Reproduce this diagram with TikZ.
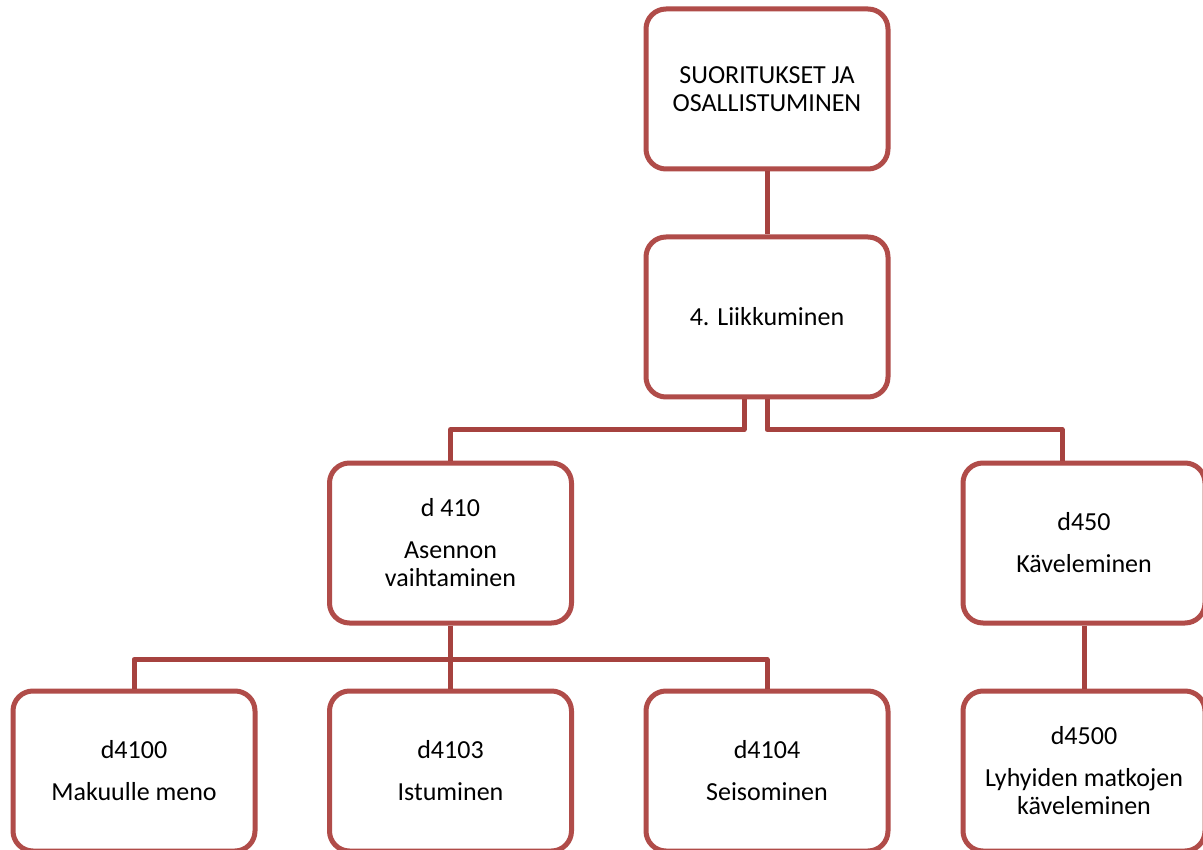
\documentclass[tikz,border=0pt]{standalone}
\usepackage{fontspec}
\setmainfont{Carlito}
\definecolor{boxred}{RGB}{176,76,73}
\definecolor{linkred}{RGB}{166,66,63}
\tikzset{
  unit/.style={draw=boxred, line width=5pt, rounded corners=20pt, fill=white,
    minimum width=242pt, minimum height=160pt, align=center, inner sep=0pt,
    font=\fontsize{26}{28}\selectfont},
  link/.style={draw=linkred, line width=5pt, line join=round}
}
\begin{document}
\begin{tikzpicture}[x=1pt, y=-1pt]
\useasboundingbox (0,0) rectangle (1203,850);
\fill[white] (0,0) rectangle (1203,850);

% boxes of the hierarchy
\node[unit] (top) at (767,89) {SUORITUKSET JA\\OSALLISTUMINEN};
\node[unit] (liik) at (767,317) {4. Liikkuminen};
\node[unit] (d410) at (450.5,543) {d 410\\[14pt]Asennon\\vaihtaminen};
\node[unit] (d450) at (1084,543) {d450\\[14pt]Käveleminen};
\node[unit] (d4100) at (134,771) {d4100\\[14pt]Makuulle meno};
\node[unit] (d4103) at (450.5,771) {d4103\\[14pt]Istuminen};
\node[unit] (d4104) at (767,771) {d4104\\[14pt]Seisominen};
\node[unit] (d4500) at (1084,771) {d4500\\[14pt]Lyhyiden matkojen\\käveleminen};

% elbow connectors
\draw[link] (top.south) -- (liik.north);
\draw[link] ([xshift=-23pt]liik.south) -- ++(0,30) -| (d410.north);
\draw[link] (liik.south) -- ++(0,30) -| ([xshift=-22pt]d450.north);
\draw[link] (d410.south) -- ++(0,34) coordinate (bus);
\draw[link] (bus) -| (d4100.north);
\draw[link] (bus) -| (d4103.north);
\draw[link] (bus) -| (d4104.north);
\draw[link] (d450.south) -- (d4500.north);
\end{tikzpicture}
\end{document}
